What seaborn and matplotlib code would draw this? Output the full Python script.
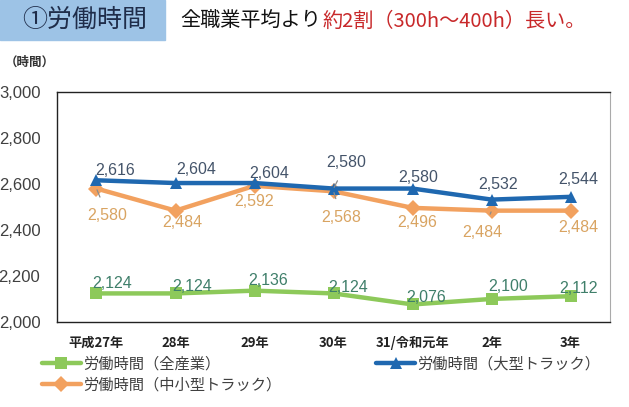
import pandas as pd
import seaborn as sns
import matplotlib.pyplot as plt
from matplotlib.patches import Rectangle

years = ["平成27年", "28年", "29年", "30年", "31/令和元年", "2年", "3年"]
all_industry = [2124, 2124, 2136, 2124, 2076, 2100, 2112]
large_truck = [2616, 2604, 2604, 2580, 2580, 2532, 2544]
small_truck = [2580, 2484, 2592, 2568, 2496, 2484, 2484]

names = ["労働時間（全産業）", "労働時間（中小型トラック）", "労働時間（大型トラック）"]
series = {names[0]: all_industry, names[1]: small_truck, names[2]: large_truck}

palette = {names[0]: "#8DC95A", names[1]: "#F2A15F", names[2]: "#1F68B0"}
label_colors = {names[0]: "#3F7F6A", names[1]: "#D9A462", names[2]: "#44546A"}
markers = {names[0]: "s", names[1]: "D", names[2]: "^"}

# label offsets in pixels (dx, dy) and whether a leader line is drawn
offsets = {
    names[2]: [(19, 10), (21, 14), (15, 10), (13, 26), (6, 11), (6, 15), (8, 17)],
    names[1]: [(11, -27), (7, -12), (0, -16), (8, -26), (5, -15), (-9, -22), (8, -17)],
    names[0]: [(16, 10), (17, 7), (14, 10), (15, 6), (14, 7), (17, 12), (8, 8)],
}
leaders = {names[2]: [3], names[1]: [0, 3, 5], names[0]: []}

rows = []
for name, vals in series.items():
    for i, v in enumerate(vals):
        rows.append({"x": i, "value": v, "series": name})
df = pd.DataFrame(rows)

sns.set_style("white")
plt.rcParams["font.family"] = ["Noto Sans CJK JP", "DejaVu Sans"]

fig = plt.figure(figsize=(6.29, 4.07), dpi=100)
ax = fig.add_axes([0.0906, 0.209, 0.8794, 0.565])

sns.lineplot(data=df, x="x", y="value", hue="series", style="series",
             palette=palette, markers=markers, dashes=False, linewidth=3.2,
             markersize=8, markeredgewidth=0, ax=ax, legend=False)

for name, vals in series.items():
    for i, v in enumerate(vals):
        dx, dy = offsets[name][i]
        arrow = None
        if i in leaders[name]:
            arrow = dict(arrowstyle="-", color="#8c8c8c", lw=0.9, shrinkA=6, shrinkB=1)
        ax.annotate(f"{v:,}", (i, v), xytext=(dx, dy), textcoords="offset pixels",
                    ha="center", va="center", fontsize=11.5, color=label_colors[name],
                    family=["Liberation Sans", "DejaVu Sans"], arrowprops=arrow)

ax.set_xlim(-0.5, 6.5)
ax.set_ylim(2000, 3000)
ax.set_yticks(range(2000, 3001, 200))
ax.set_yticklabels([f"{t:,}" for t in range(2000, 3001, 200)],
                   family=["Liberation Sans", "DejaVu Sans"], fontsize=12, color="#404040")
ax.tick_params(axis="y", length=0, pad=12)
ax.set_xticks(range(7))
ax.set_xticklabels(years, fontsize=9.5, fontweight="bold", color="#222222")
ax.set_xticks([i - 0.5 for i in range(8)], minor=True)
ax.tick_params(axis="x", which="major", length=0, pad=10)
ax.tick_params(axis="x", which="minor", length=5, color="#222222", width=0.9)
ax.set_xlabel("")
ax.set_ylabel("")
for side in ["left", "bottom", "top"]:
    ax.spines[side].set_color("#222222")
    ax.spines[side].set_linewidth(1.0)
ax.spines["right"].set_color("#aaaaaa")

# legend
handles = []
for name in names:
    h, = ax.plot([], [], color=palette[name], marker=markers[name], lw=3.2,
                 markersize=8, markeredgewidth=0)
    handles.append(h)
fig.legend(handles, names, loc="upper left", bbox_to_anchor=(0.066, 0.126),
           ncol=2, frameon=False, fontsize=11, handlelength=2.6, handletextpad=0.1,
           columnspacing=6.2, labelspacing=0.25, borderpad=0, borderaxespad=0,
           labelcolor="#404040")

# title block
fig.patches.append(Rectangle((0, 0.902), 0.262, 0.098, transform=fig.transFigure,
                             color="#9DC3E6", zorder=0))
fig.text(0.035, 0.951, "①労働時間", fontsize=18, color="#1F2D4A", va="center", ha="left")
fig.text(0.286, 0.948, "全職業平均より", fontsize=14.5, color="#111111", va="center", ha="left")
fig.text(0.512, 0.948, "約2割（300h～400h）長い。", fontsize=14.5,
         color="#C8282A", va="center", ha="left")
fig.text(0.008, 0.848, "（時間）", fontsize=9, fontweight="bold", color="#333333",
         va="center", ha="left")

fig.savefig("out.png", dpi=100)
